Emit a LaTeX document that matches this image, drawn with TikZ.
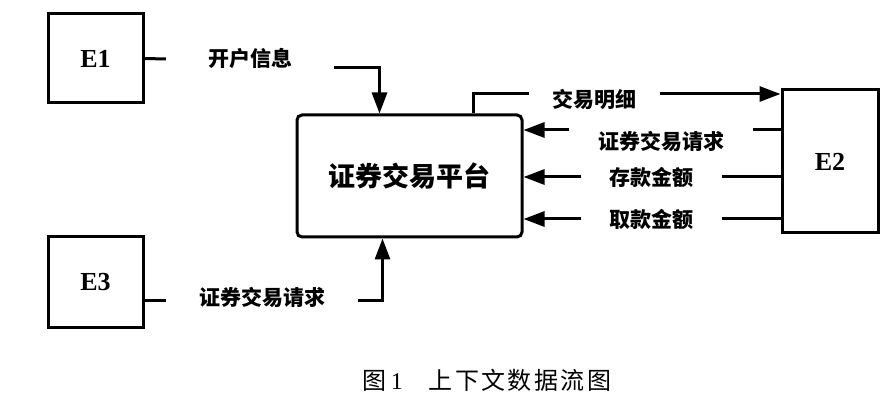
\documentclass[tikz,border=0pt]{standalone}
\usepackage{fontspec}
\setmainfont{Liberation Serif}
\newfontfamily\cjk{Noto Sans CJK SC}
\newfontfamily\cjkcap[LetterSpace=10]{Noto Sans CJK SC}
\usetikzlibrary{arrows.meta,positioning}
\tikzset{
  ent/.style={rectangle, draw=black, line width=3pt, minimum width=95pt,
    minimum height=#1, inner sep=0pt, font=\bfseries\fontsize{26}{30}\selectfont},
  ent/.default=89pt,
  proc/.style={rectangle, draw=black, line width=3pt, rounded corners=5pt,
    minimum width=225pt, minimum height=122pt, inner sep=0pt,
    font=\cjk\bfseries\fontsize{27}{32}\selectfont},
  flow/.style={line width=3pt, draw=black},
  arr/.style={flow, -{Triangle[length=21pt,width=15pt]}},
  lbl/.style={inner ysep=0pt, inner xsep=#1, font=\cjk\bfseries\fontsize{21}{25}\selectfont},
  lbl/.default=30pt,
  captext/.style={inner sep=0pt, font=\fontsize{24}{28}\selectfont},
}

\begin{document}
\begin{tikzpicture}[x=1pt, y=-1pt]
    \useasboundingbox (0,0) rectangle (891,403);

    % entities and the process
    \node[ent] (e1) at (95.5,58.5) {E1};
    \node[ent=90pt] (e3) at (95.5,282) {E3};
    \node[ent=143pt, minimum width=96pt] (e2) at (830,161.5) {E2};
    \node[proc] (main) at (409.5,176) {证券交易平台};

    % flow labels
    \node[lbl=42pt] (kaihu) at (250,59) {开户信息};
    \node[lbl=32.5pt] (qq3) at (262,297) {证券交易请求};
    \node[lbl=23pt] (jymx) at (594.5,99) {交易明细};
    \node[lbl=29pt] (qq2) at (661,141) {证券交易请求};
    \node[lbl=28pt] (ckje) at (651.5,177) {存款金额};
    \node[lbl=28pt] (qkje) at (651.5,219) {取款金额};

    % E1 -> platform
    \draw[flow] (e1.east) -- (kaihu.west);
    \draw[arr] ([yshift=-9pt]kaihu.east) -| ([xshift=-30pt]main.north);
    % E3 -> platform
    \draw[flow] ([yshift=-3pt]qq3.west -| e3.east) -- ([yshift=-3pt]qq3.west);
    \draw[arr] ([yshift=-3pt]qq3.east) -| ([xshift=-27pt]main.south);
    % platform -> E2
    \draw[flow] ([xshift=63.5pt]main.north) |- ([yshift=5pt]jymx.west);
    \draw[arr] ([yshift=5pt]jymx.east) -- ([yshift=5pt]jymx.east -| e2.west);
    % E2 -> platform
    \draw[flow] ([yshift=11pt]qq2.east) -- ([yshift=11pt]qq2.east -| e2.west);
    \draw[arr] ([yshift=11pt]qq2.west) -- ([yshift=11pt]qq2.west -| main.east);
    \draw[flow] (ckje.east) -- (ckje.east -| e2.west);
    \draw[arr] (ckje.west) -- (ckje.west -| main.east);
    \draw[flow] (qkje.east) -- (qkje.east -| e2.west);
    \draw[arr] (qkje.west) -- (qkje.west -| main.east);

    % caption
    \node[captext] (caption) at (487,380) {{\cjkcap 图}\,1\hspace{26pt}{\cjkcap 上下文数据流图}};
\end{tikzpicture}
\end{document}
